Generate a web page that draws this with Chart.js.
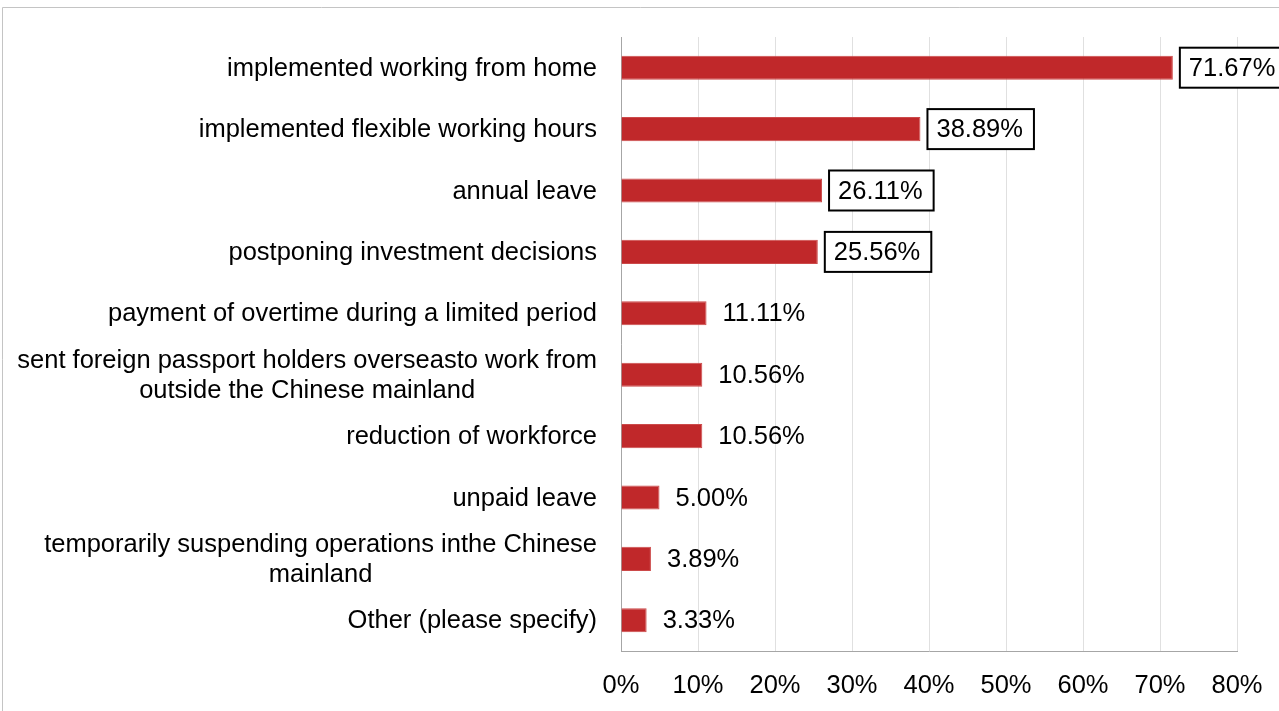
<!DOCTYPE html>
<html>
<head>
<meta charset="utf-8">
<title>Measures taken</title>
<script src="https://cdn.jsdelivr.net/npm/chart.js@4.4.0/dist/chart.umd.min.js"></script>
<style>
    html, body { margin: 0; padding: 0; background: #fff; overflow: hidden; }
    #chart { display: block; }
</style>
</head>
<body>
<canvas id="chart" width="1279" height="711"></canvas>
<script>
// Catégories (les libellés sur deux lignes sont des tableaux)
const categories = [
    'implemented working from home',
    'implemented flexible working hours',
    'annual leave',
    'postponing investment decisions',
    'payment of overtime during a limited period',
    ['sent foreign passport holders overseasto work from', 'outside the Chinese mainland'],
    'reduction of workforce',
    'unpaid leave',
    ['temporarily suspending operations inthe Chinese', 'mainland'],
    'Other (please specify)'
];

// Pourcentages
const values = [71.67, 38.89, 26.11, 25.56, 11.11, 10.56, 10.56, 5.00, 3.89, 3.33];

// Étiquettes encadrées
const boxed = [true, true, true, true, false, false, false, false, false, false];

// Graduations de l'axe X
const xTicks = [0, 10, 20, 30, 40, 50, 60, 70, 80];

const FONT = '"Liberation Sans", Arial, sans-serif';
const FONT_SIZE = 25.5;

/**
 * Cadre gris et fond blanc
 */
const framePlugin = {
    id: 'frame',
    beforeDraw(chart) {
        const ctx = chart.ctx;
        ctx.save();
        ctx.fillStyle = '#ffffff';
        ctx.fillRect(0, 0, chart.width, chart.height);
        ctx.strokeStyle = '#c4c4c4';
        ctx.lineWidth = 1;
        ctx.beginPath();
        ctx.moveTo(2.5, chart.height);
        ctx.lineTo(2.5, 7.5);
        ctx.lineTo(chart.width, 7.5);
        ctx.stroke();
        ctx.restore();
    }
};

/**
 * Libellés des catégories : bloc aligné à droite, lignes centrées
 */
const yLabelsPlugin = {
    id: 'yLabels',
    afterDraw(chart) {
        const ctx = chart.ctx;
        const scale = chart.scales.y;
        const right = chart.chartArea.left - 24;
        const lineHeight = 30;
        ctx.save();
        ctx.font = FONT_SIZE + 'px ' + FONT;
        ctx.fillStyle = '#000000';
        ctx.textAlign = 'center';
        ctx.textBaseline = 'middle';
        categories.forEach((label, i) => {
            const lines = Array.isArray(label) ? label : [label];
            const blockWidth = Math.max(...lines.map(l => ctx.measureText(l).width));
            const cx = right - blockWidth / 2;
            const cy = scale.getPixelForTick(i) + 1;
            lines.forEach((line, j) => {
                ctx.fillText(line, cx, cy + (j - (lines.length - 1) / 2) * lineHeight);
            });
        });
        ctx.restore();
    }
};

/**
 * Valeurs à droite des barres (certaines encadrées)
 */
const valueLabelsPlugin = {
    id: 'valueLabels',
    afterDatasetsDraw(chart) {
        const ctx = chart.ctx;
        const meta = chart.getDatasetMeta(0);
        ctx.save();
        ctx.font = FONT_SIZE + 'px ' + FONT;
        ctx.textBaseline = 'middle';
        ctx.textAlign = 'left';
        meta.data.forEach((bar, i) => {
            const text = values[i].toFixed(2) + '%';
            const tx = bar.x + 16;
            const w = ctx.measureText(text).width;
            if (boxed[i]) {
                ctx.fillStyle = '#ffffff';
                ctx.fillRect(bar.x + 7, bar.y - 20, w + 20, 40);
                ctx.strokeStyle = '#000000';
                ctx.lineWidth = 2;
                ctx.strokeRect(bar.x + 7, bar.y - 20, w + 20, 40);
            }
            ctx.fillStyle = '#000000';
            ctx.fillText(text, tx, bar.y + 1);
        });
        ctx.restore();
    }
};

new Chart(document.getElementById('chart'), {
    type: 'bar',
    data: {
        labels: categories,
        datasets: [{
            data: values,
            backgroundColor: '#c0282a',
            borderColor: '#cc4a4a',
            borderWidth: 1,
            barPercentage: 0.8,
            categoryPercentage: 0.49
        }]
    },
    options: {
        indexAxis: 'y',
        responsive: false,
        animation: false,
        devicePixelRatio: 1,
        layout: { padding: { top: 37, right: 42, bottom: 0, left: 0 } },
        plugins: {
            legend: { display: false },
            tooltip: { enabled: false }
        },
        scales: {
            x: {
                min: 0,
                max: 80,
                afterBuildTicks: scale => { scale.ticks = xTicks.map(v => ({ value: v })); },
                afterFit: scale => {
                    scale.height = 60;
                    scale.paddingLeft = 0;
                    scale.paddingRight = 0;
                },
                ticks: {
                    callback: v => v + '%',
                    color: '#000000',
                    font: { family: FONT, size: FONT_SIZE },
                    padding: 20,
                    maxRotation: 0
                },
                grid: { color: '#e0e0e0', drawTicks: false },
                border: { color: '#a6a6a6', width: 1 }
            },
            y: {
                afterFit: scale => { scale.width = 621; },
                ticks: { display: false },
                grid: { display: false, drawTicks: false },
                border: { color: '#a6a6a6', width: 1 }
            }
        }
    },
    plugins: [framePlugin, yLabelsPlugin, valueLabelsPlugin]
});
</script>
</body>
</html>
